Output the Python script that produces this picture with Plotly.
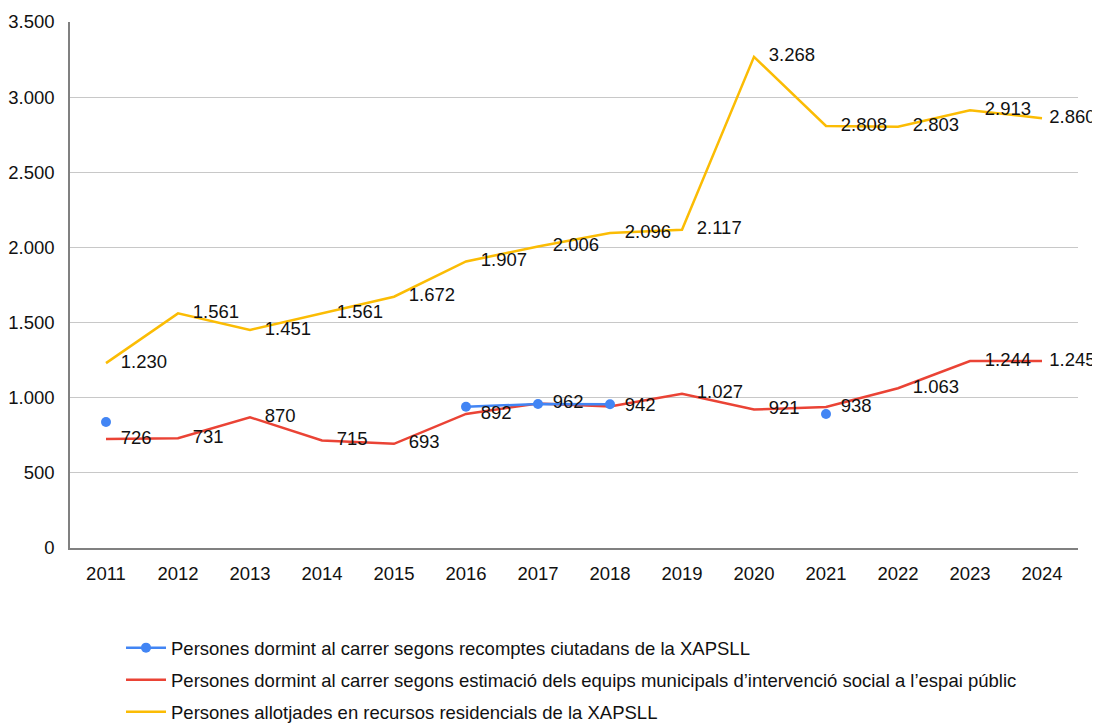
import plotly.graph_objects as go

years = ["2011", "2012", "2013", "2014", "2015", "2016", "2017", "2018", "2019", "2020", "2021", "2022", "2023", "2024"]
blue_vals = [838, None, None, None, None, 940, 958, 956, None, None, 892, None, None, None]
red_vals = [726, 731, 870, 715, 693, 892, 962, 942, 1027, 921, 938, 1063, 1244, 1245]
yellow_vals = [1230, 1561, 1451, 1561, 1672, 1907, 2006, 2096, 2117, 3268, 2808, 2803, 2913, 2860]

names = [
    "Persones dormint al carrer segons recomptes ciutadans de la XAPSLL",
    "Persones dormint al carrer segons estimació dels equips municipals d’intervenció social a l’espai públic",
    "Persones allotjades en recursos residencials de la XAPSLL",
]
BLUE = "#4285F4"
RED = "#EA4335"
YELLOW = "#FBBC04"
FONT = "Liberation Sans"
FS = 18.5

def fmt(v):
    return f"{v:,}".replace(",", ".")

# label offset from the point: last column nudged closer so it stays inside the frame
label_gap = [22] * (len(years) - 1) + [10]

fig = go.Figure()
fig.add_trace(go.Scatter(x=years, y=red_vals, mode="lines", name=names[1],
                         line=dict(color=RED, width=2.5), legendrank=2, legendgroup="r"))
fig.add_trace(go.Scatter(x=years, y=yellow_vals, mode="lines", name=names[2],
                         line=dict(color=YELLOW, width=2.5), legendrank=3, legendgroup="y"))
fig.add_trace(go.Scatter(x=years, y=blue_vals, mode="lines+markers", name=names[0],
                         line=dict(color=BLUE, width=2.5), marker=dict(size=10, color=BLUE),
                         connectgaps=False, legendrank=1, legendgroup="b"))

for vals in (red_vals, yellow_vals):
    fig.add_trace(go.Scatter(x=years, y=vals, mode="markers+text", text=[fmt(v) for v in vals],
                             textposition="middle right", marker=dict(size=label_gap, opacity=0),
                             textfont=dict(size=FS, color="#111", family=FONT),
                             cliponaxis=False, showlegend=False, hoverinfo="skip"))

fig.update_layout(
    width=1100, height=724,
    paper_bgcolor="white", plot_bgcolor="white",
    margin=dict(l=62, r=30, t=14, b=184),
    separators=",.",
    font=dict(family=FONT, size=FS, color="#111"),
    showlegend=True,
    legend=dict(orientation="v", xref="paper", yref="container", x=0.0506, xanchor="left",
                y=0.1421, yanchor="top",
                font=dict(size=FS, family=FONT, color="#111"), traceorder="grouped",
                tracegroupgap=5, itemwidth=40),
)
fig.update_xaxes(type="category", range=[-0.5, 13.5], showgrid=False, showline=True,
                 linecolor="#808080", linewidth=1.5, ticks="", tickfont=dict(size=FS),
                 ticklabelstandoff=8, automargin=False)
fig.update_yaxes(range=[0, 3500], dtick=500, tickformat=",d", showgrid=True, gridcolor="#c8c8c8",
                 gridwidth=1, showline=True, linecolor="#808080", linewidth=1.5, zeroline=False,
                 ticks="", tickfont=dict(size=FS), ticklabelstandoff=10, automargin=False)

fig.write_html("out.html")
